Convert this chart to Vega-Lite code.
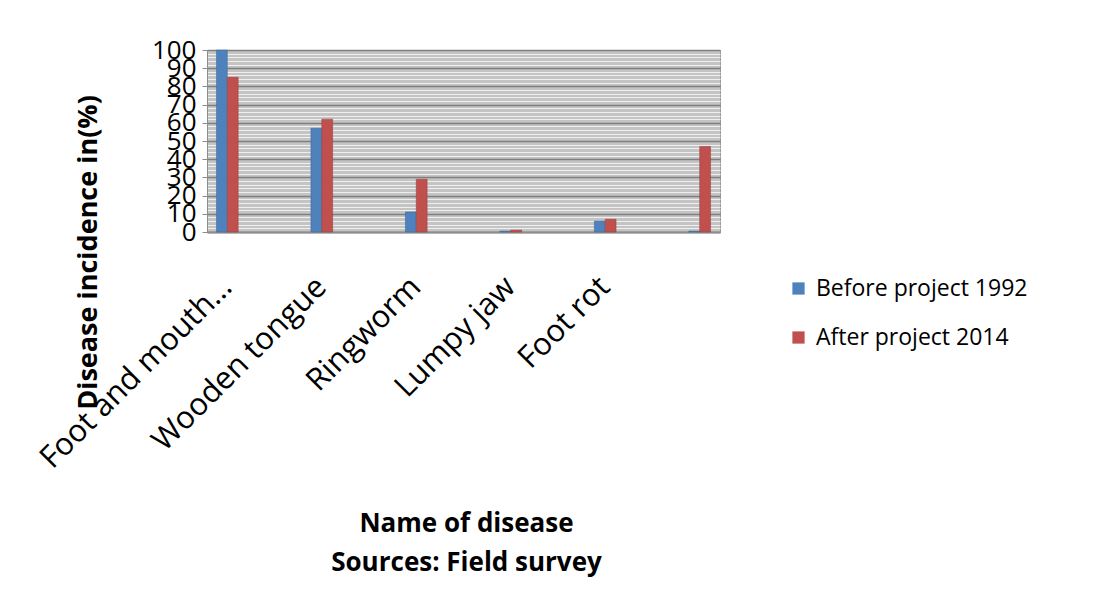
{
  "$schema": "https://vega.github.io/schema/vega-lite/v6.json",
  "width": 513,
  "height": 182,
  "autosize": {"type": "none"},
  "padding": {"left": 207, "top": 50, "right": 383, "bottom": 378},
  "background": "white",
  "config": {
    "font": "Open Sans",
    "view": {"fill": "#c4c4c4", "stroke": "#9a9a9a", "strokeWidth": 1}
  },
  "data": {
    "values": [
      {"disease": "Foot and mouth…", "period": "Before project 1992", "value": 100},
      {"disease": "Foot and mouth…", "period": "After project 2014", "value": 85},
      {"disease": "Wooden tongue", "period": "Before project 1992", "value": 57},
      {"disease": "Wooden tongue", "period": "After project 2014", "value": 62},
      {"disease": "Ringworm", "period": "Before project 1992", "value": 11},
      {"disease": "Ringworm", "period": "After project 2014", "value": 29},
      {"disease": "Lumpy jaw", "period": "Before project 1992", "value": 0.5},
      {"disease": "Lumpy jaw", "period": "After project 2014", "value": 1},
      {"disease": "Foot rot", "period": "Before project 1992", "value": 6},
      {"disease": "Foot rot", "period": "After project 2014", "value": 7},
      {"disease": " ", "period": "Before project 1992", "value": 0.5},
      {"disease": " ", "period": "After project 2014", "value": 47}
    ]
  },
  "resolve": {"axis": {"y": "independent"}},
  "layer": [
    {
      "mark": {"type": "rule", "opacity": 0},
      "encoding": {
        "y": {
          "datum": 0,
          "type": "quantitative",
          "scale": {"domain": [0, 100]},
          "axis": {
            "orient": "right",
            "values": [2, 4, 6, 8, 12, 14, 16, 18, 22, 24, 26, 28, 32, 34, 36, 38, 42, 44, 46, 48, 52, 54, 56, 58, 62, 64, 66, 68, 72, 74, 76, 78, 82, 84, 86, 88, 92, 94, 96, 98],
            "grid": true,
            "gridColor": "#efefef",
            "gridWidth": 1.2,
            "labels": false,
            "ticks": false,
            "domain": false,
            "title": null
          }
        }
      }
    },
    {
      "mark": {"type": "bar", "strokeWidth": 0.5},
      "encoding": {
        "x": {
          "field": "disease",
          "type": "nominal",
          "sort": null,
          "scale": {"paddingInner": 0.77, "paddingOuter": 0.1},
          "axis": {
            "labelAngle": -45,
            "labelAlign": "right",
            "labelBaseline": "middle",
            "labelFontSize": 31,
            "labelColor": "#000000",
            "labelPadding": 50,
            "labelDx": 8,
            "labelLimit": 0,
            "labelOverlap": false,
            "ticks": false,
            "domainColor": "#8c8c8c",
            "domainWidth": 2,
            "title": ["Name of disease", "Sources: Field survey"],
            "titleFontSize": 26,
            "titleFontWeight": "bold",
            "titleColor": "#000000",
            "titleLineHeight": 39,
            "titleY": 291,
            "titleX": 259,
            "titleBaseline": "middle"
          }
        },
        "xOffset": {"field": "period", "sort": ["Before project 1992", "After project 2014"]},
        "y": {
          "field": "value",
          "type": "quantitative",
          "scale": {"domain": [0, 100]},
          "axis": {
            "orient": "left",
            "values": [0, 10, 20, 30, 40, 50, 60, 70, 80, 90, 100],
            "grid": true,
            "gridColor": "#7f7f7f",
            "gridWidth": 1.5,
            "labelFontSize": 26,
            "labelColor": "#000000",
            "labelPadding": 6,
            "labelOverlap": false,
            "labelFlush": false,
            "tickColor": "#8c8c8c",
            "domainColor": "#8c8c8c",
            "title": "Disease incidence in(%)",
            "titleFontSize": 27,
            "titleFontWeight": "bold",
            "titleColor": "#000000",
            "titleAngle": -90,
            "titleX": -119,
            "titleY": 202,
            "titleAlign": "center",
            "titleBaseline": "middle"
          }
        },
        "color": {
          "field": "period",
          "type": "nominal",
          "sort": ["Before project 1992", "After project 2014"],
          "scale": {"domain": ["Before project 1992", "After project 2014"], "range": ["#4f81bd", "#c0504d"]},
          "legend": {
            "title": null,
            "orient": "none",
            "legendX": 580,
            "legendY": 227,
            "symbolType": "square",
            "symbolSize": 150,
            "symbolStrokeWidth": 0,
            "labelFontSize": 23,
            "labelColor": "#000000",
            "labelLimit": 0,
            "labelOffset": 6,
            "rowPadding": 25,
            "labelExpr": "datum.label == 'Before project 1992' ? '  Before project 1992' : datum.label"
          }
        },
        "stroke": {
          "field": "period",
          "type": "nominal",
          "scale": {"domain": ["Before project 1992", "After project 2014"], "range": ["#3a6496", "#973c3a"]},
          "legend": null
        }
      }
    }
  ]
}
